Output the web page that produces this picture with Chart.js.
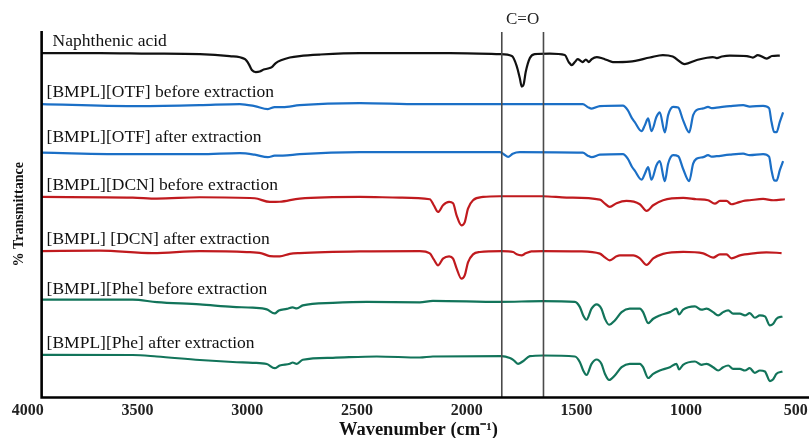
<!DOCTYPE html>
<html>
<head>
<meta charset="utf-8">
<title>FTIR spectra</title>
<script src="https://cdn.jsdelivr.net/npm/chart.js@4.4.1/dist/chart.umd.min.js"></script>
<style>
  html, body { margin: 0; padding: 0; background: #fff; }
</style>
</head>
<body>
<canvas id="ftir" width="809" height="438"></canvas>
<script>
// tick labels on the wavenumber axis
const xTicks = [4000, 3500, 3000, 2500, 2000, 1500, 1000, 500];
const xStart = 3937;              // spectra start here (left frame line)
const carbonylBand = [1840, 1650]; // C=O marker lines

const names = [
  'Naphthenic acid',
  '[BMPL][OTF] before extraction',
  '[BMPL][OTF] after extraction',
  '[BMPL][DCN] before extraction',
  '[BMPL] [DCN] after extraction',
  '[BMPL][Phe] before extraction',
  '[BMPL][Phe] after extraction'
];

// [wavenumber, stacked transmittance]
const naphthenic = [[3937,344],[3672,344],[3444,343.5],[3216,343],[3080,341],[3011,338],[2993,333],[2979,327],[2961,325],[2943,325.5],[2925,327.5],[2906,328.5],[2888,330],[2870,334],[2843,337],[2806,339.5],[2761,341],[2669,342.5],[2487,344],[2305,344],[2077,344],[1849,343],[1794,341],[1772,331],[1758,319],[1749,310.5],[1740,313],[1731,325],[1712,339],[1690,343],[1621,343.5],[1553,342],[1535,335],[1521,332],[1507,335],[1494,338],[1480,336],[1471,335],[1457,337.5],[1443,335],[1430,338],[1407,340],[1380,338.5],[1361,337],[1334,335],[1257,335.5],[1165,339.5],[1106,342],[1061,340.5],[1006,333],[951,337],[878,340],[860,339],[837,340.5],[801,341.5],[723,341],[696,339.5],[673,342],[632,338.5],[609,341],[573,341.5]];

const otfBefore = [[3937,293],[3522,291],[3216,292],[3034,293],[2966,291],[2906,288],[2875,290],[2838,290],[2761,292],[2487,294],[2214,293],[1849,293],[1471,293],[1448,290],[1430,288.5],[1393,291],[1288,291.5],[1266,287],[1247,279],[1234,275],[1203,266],[1188,272],[1173,278.7],[1158,266],[1135,280.3],[1120,284.7],[1097,264.7],[1082,282],[1059,290.3],[1036,289.5],[1014,277],[986,264.7],[968,282],[953,287],[922,288.7],[900,290.3],[884,289],[861,289.5],[801,291],[740,292],[710,290.5],[649,291.3],[622,289],[611,275.3],[599,265.3],[588,265],[573,275.3],[558,284.7]];

const otfAfter = [[3937,244.5],[3522,243],[3216,243],[3034,244],[2966,242.5],[2906,240],[2875,241.5],[2838,241.5],[2761,243],[2487,245],[2214,245],[1849,245],[1831,243],[1811,240.3],[1790,243.5],[1758,245],[1471,244.5],[1448,241.5],[1430,240],[1393,242.5],[1288,243],[1266,238.5],[1247,230.5],[1234,226.5],[1203,217.5],[1188,223.5],[1173,230],[1158,217.5],[1135,232],[1120,236],[1097,216],[1082,233.5],[1059,242],[1036,241],[1014,228.5],[986,216],[968,233.5],[953,238.5],[922,240],[900,242],[884,240.5],[861,241],[801,242.5],[740,243.5],[710,242],[649,243],[622,240.5],[611,227],[599,217],[588,216.5],[573,227],[558,236]];

const dcnBefore = [[3937,200.3],[3522,199.7],[3412,198.7],[3216,200],[2966,199],[2897,195.3],[2852,195.5],[2761,198.7],[2487,200.3],[2305,199.7],[2168,198],[2150,192],[2130,185.3],[2108,192],[2080,195.3],[2062,194],[2046,182],[2024,172],[2009,175],[1994,188.7],[1971,197],[1925,200.3],[1849,201],[1652,201],[1545,199.7],[1393,197.7],[1370,193.7],[1348,190.3],[1317,194],[1272,196.3],[1211,193],[1180,186.3],[1150,192],[1105,197],[1013,199.3],[953,198],[900,197],[869,193.7],[846,196.3],[816,196.3],[793,193],[770,194.3],[740,196.3],[710,197],[649,198.3],[603,197],[550,198]];

const dcnAfter = [[3937,146.3],[3672,146.7],[3431,144.3],[3216,146.3],[3002,145.3],[2934,144],[2897,141.3],[2852,141],[2806,143.5],[2761,144.3],[2487,146],[2214,146.3],[2168,144],[2150,138],[2130,132],[2108,138.7],[2080,141],[2062,138.7],[2046,129],[2024,118.7],[2009,122],[1994,135],[1971,143],[1940,145.3],[1841,146.3],[1788,145.3],[1772,143],[1750,142],[1731,144],[1705,146],[1652,146.3],[1484,146],[1393,143.7],[1370,140],[1348,137],[1317,141],[1302,142],[1241,142],[1211,139],[1180,132.5],[1150,139],[1105,143.5],[1013,145.5],[922,144],[877,139.7],[846,143],[816,143],[793,139],[755,142],[694,144],[634,145],[565,144.3]];

const pheBefore = [[3937,97.7],[3522,97.7],[3412,95.3],[3216,93],[3066,90.5],[2975,89.7],[2911,88],[2875,84],[2856,87],[2820,88.5],[2793,90],[2774,89],[2747,92],[2610,94.5],[2455,95.5],[2214,95],[2154,96.5],[1849,95.5],[1652,96.3],[1507,95.5],[1484,90.3],[1469,82],[1454,77.7],[1431,88.7],[1408,93],[1386,88.7],[1370,78.7],[1351,72.7],[1325,77],[1294,85.3],[1257,88.7],[1211,88.7],[1196,85.3],[1173,74.3],[1150,78.7],[1120,82],[1074,85.3],[1044,88.7],[1032,83],[1014,87.7],[960,91],[930,87.7],[907,88.7],[877,85.3],[854,82],[831,85.3],[808,87],[786,83.7],[755,83.7],[732,82],[710,84.3],[687,79.7],[664,82],[641,81],[618,72],[603,73.7],[588,78.7],[561,81]];

const pheAfter = [[3937,42.7],[3522,42.5],[3412,41],[3216,37.5],[3066,35.5],[2975,34.7],[2911,33.5],[2875,29.3],[2852,32],[2806,33.7],[2793,35],[2774,33.7],[2747,37.7],[2610,39.7],[2410,41],[2214,40],[2154,41],[1841,41.3],[1803,39.5],[1788,37.7],[1766,33.7],[1743,36.3],[1712,41.3],[1652,42],[1507,41],[1484,35.3],[1469,27],[1454,22.5],[1431,33.7],[1408,38],[1386,33.7],[1370,23.7],[1351,17.5],[1325,22],[1294,30.3],[1257,33.7],[1211,33.7],[1196,30.3],[1173,19.5],[1150,23.7],[1120,27],[1074,30.3],[1044,33.7],[1032,28],[1014,32.7],[960,36],[930,32.7],[907,33.7],[877,30.3],[854,27],[831,30.3],[808,32],[786,28.7],[755,28.7],[732,27],[710,29.3],[687,24.7],[664,27],[641,26],[618,16.5],[603,18.3],[588,23.7],[561,26]];

const spectra = [naphthenic, otfBefore, otfAfter, dcnBefore, dcnAfter, pheBefore, pheAfter];

// look of each trace and where its caption sits
const looks = [
  { color: '#111111', dx: 11, dy: 12 },
  { color: '#1b6fc6', dx: 5, dy: 12 },
  { color: '#1b6fc6', dx: 5, dy: 15 },
  { color: '#c01a1e', dx: 5, dy: 12 },
  { color: '#c01a1e', dx: 5, dy: 12 },
  { color: '#12745a', dx: 5, dy: 10 },
  { color: '#12745a', dx: 5, dy: 11 }
];

const serif = '"Liberation Serif", "Times New Roman", serif';

const overlay = {
  id: 'overlay',
  afterDatasetsDraw(chart) {
    const { ctx, chartArea: a, scales: { x } } = chart;
    const x0 = x.getPixelForValue(xStart);
    ctx.save();

    // C=O band markers
    ctx.strokeStyle = '#4a4a4a';
    ctx.lineWidth = 1.6;
    carbonylBand.forEach(v => {
      const px = x.getPixelForValue(v);
      ctx.beginPath();
      ctx.moveTo(px, a.top + 1);
      ctx.lineTo(px, a.bottom);
      ctx.stroke();
    });
    const mid = (x.getPixelForValue(carbonylBand[0]) + x.getPixelForValue(carbonylBand[1])) / 2;
    ctx.fillStyle = '#222';
    ctx.font = '17px ' + serif;
    ctx.textAlign = 'center';
    ctx.textBaseline = 'middle';
    ctx.fillText('C=O', mid, a.top - 11);

    // frame: left and bottom axis lines
    ctx.strokeStyle = '#000';
    ctx.lineWidth = 2.6;
    ctx.beginPath();
    ctx.moveTo(x0, a.top);
    ctx.lineTo(x0, a.bottom);
    ctx.lineTo(chart.width, a.bottom);
    ctx.stroke();

    // captions above each trace
    ctx.font = '17.5px ' + serif;
    ctx.textAlign = 'left';
    ctx.fillStyle = '#111';
    chart.data.datasets.forEach((ds, i) => {
      const p = chart.getDatasetMeta(i).data[0];
      ctx.fillText(ds.label, x0 + looks[i].dx, p.y - looks[i].dy);
    });
    ctx.restore();
  }
};

new Chart(document.getElementById('ftir'), {
  type: 'line',
  data: {
    datasets: spectra.map((s, i) => ({
      label: names[i],
      data: s.map(([w, t]) => ({ x: w, y: t })),
      borderColor: looks[i].color,
      borderWidth: 2.2,
      pointRadius: 0,
      fill: false,
      cubicInterpolationMode: 'monotone'
    }))
  },
  options: {
    responsive: false,
    animation: false,
    layout: { padding: { left: 6, right: 0, top: 31, bottom: 1.5 } },
    plugins: { legend: { display: false }, tooltip: { enabled: false } },
    scales: {
      x: {
        type: 'linear',
        reverse: true,
        min: 440,
        max: 4000,
        afterBuildTicks: s => { s.ticks = xTicks.map(v => ({ value: v })); },
        afterFit: s => { s.paddingLeft = 0; s.paddingRight = 0; },
        grid: { display: false, drawTicks: false },
        border: { display: false },
        ticks: {
          padding: 5,
          maxRotation: 0,
          autoSkip: false,
          color: '#222',
          font: { family: serif, size: 16, weight: 'bold', lineHeight: 1 },
          callback: v => String(v)
        },
        title: {
          display: true,
          text: 'Wavenumber (cm\u207B\u00B9)',
          color: '#111',
          padding: { top: 0, bottom: 0 },
          font: { family: serif, size: 18.5, weight: 'bold', lineHeight: 0.7 }
        }
      },
      y: {
        min: 0,
        max: 366,
        grid: { display: false, drawTicks: false },
        border: { display: false },
        ticks: { display: false },
        title: {
          display: true,
          text: '% Transmittance',
          color: '#111',
          padding: { top: 5, bottom: 0 },
          font: { family: serif, size: 14, weight: 'bold' }
        }
      }
    }
  },
  plugins: [overlay]
});
</script>
</body>
</html>
